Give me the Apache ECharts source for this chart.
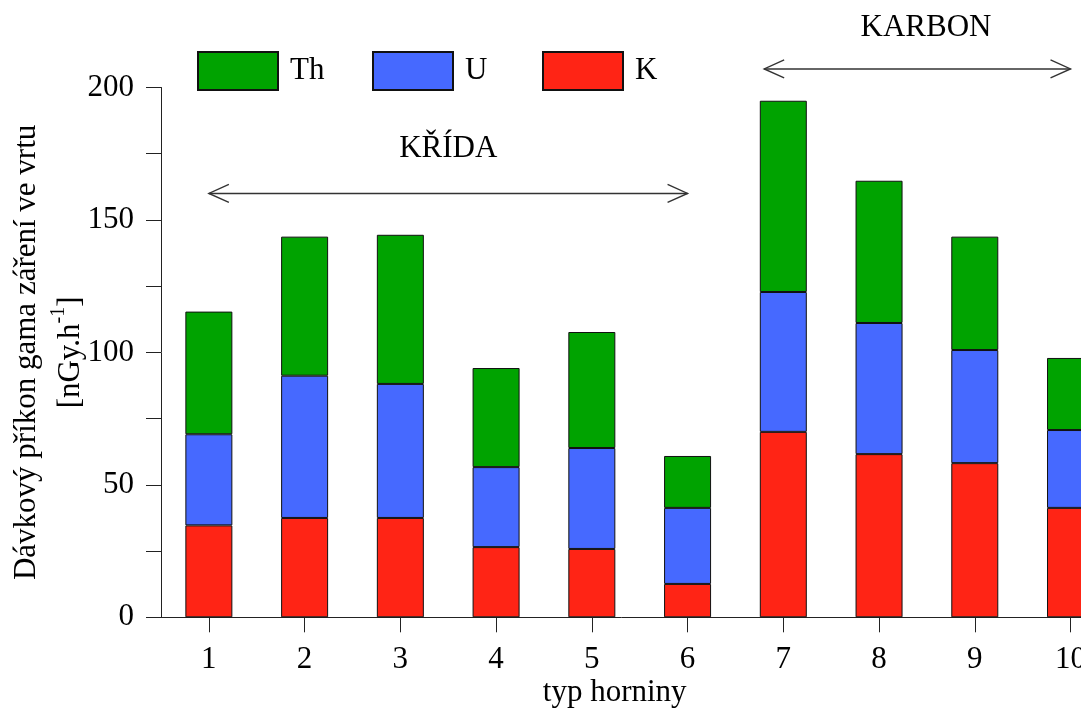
<!DOCTYPE html>
<html>
<head>
<meta charset="utf-8">
<script src="https://cdn.jsdelivr.net/npm/echarts@6/dist/echarts.min.js"></script>
<style>
  html, body { margin: 0; padding: 0; background: #fff; }
  #chart { width: 1081px; height: 713px; }
</style>
</head>
<body>
<div id="chart"></div>
<script>
// Rock types (typ horniny) and the dose-rate contributions of K, U and Th [nGy/h]
const categories = ['1', '2', '3', '4', '5', '6', '7', '8', '9', '10'];
const valuesK  = [34.7, 37.5, 37.5, 26.5, 25.8, 12.6, 70.0, 61.6, 58.2, 41.3];
const valuesU  = [34.4, 53.7, 50.6, 30.2, 38.1, 28.7, 52.8, 49.5, 42.7, 29.4];
const valuesTh = [46.3, 52.5, 56.3, 37.4, 43.8, 19.6, 72.2, 53.7, 42.8, 27.2];

// Stratigraphic spans: start/end category index, arrow height, label position (axis units)
const spanLabels = ['KŘÍDA', 'KARBON'];
const spanFrom   = [0, 5.8];
const spanTo     = [5, 9];
const spanArrowY = [160, 207];
const spanTextX  = [2.5, 7.49];
const spanTextY  = [177, 222.5];

const FONT = 'Liberation Serif';
const FS = 31;

const colors = { Th: '#00a300', U: '#4669ff', K: '#ff2415' };

const chart = echarts.init(document.getElementById('chart'), null, { renderer: 'canvas' });

function legendFor(name, left) {
  return {
    data: [name],
    left: left,
    top: 51,
    padding: 0,
    itemWidth: 80,
    itemHeight: 38,
    icon: 'rect',
    selectedMode: false,
    textStyle: { fontFamily: FONT, fontSize: FS, color: '#000', padding: [0, 0, 0, 7] }
  };
}

// the category axis snaps to whole indices, so fractional positions are interpolated
function coordAt(api, xIndex, y) {
  const i0 = Math.floor(xIndex);
  const f = xIndex - i0;
  const a = api.coord([i0, y]);
  if (f === 0) return a;
  const b = api.coord([i0 + 1, y]);
  return [a[0] + f * (b[0] - a[0]), a[1]];
}

const spanData = spanLabels.map((t, i) => [spanFrom[i], spanTo[i], spanArrowY[i], spanTextY[i]]);

const option = {
  animation: false,
  backgroundColor: '#fff',
  textStyle: { fontFamily: FONT },
  grid: {
    left: 161,
    top: 87.5,
    width: 957.4,
    height: 529.8,
    containLabel: false,
    outerBoundsMode: 'none'
  },
  legend: [legendFor('Th', 197), legendFor('U', 372), legendFor('K', 542)],
  xAxis: {
    type: 'category',
    data: categories,
    boundaryGap: true,
    name: 'typ horniny',
    nameLocation: 'middle',
    nameGap: 60,
    nameMoveOverlap: false,
    nameTextStyle: { fontFamily: FONT, fontSize: FS, color: '#000', padding: [0, 50, 0, 0] },
    axisLine: { show: true, lineStyle: { color: '#222', width: 1 } },
    axisTick: { show: true, alignWithLabel: true, length: 15, lineStyle: { color: '#222', width: 1 } },
    axisLabel: { fontFamily: FONT, fontSize: FS, color: '#000', margin: 27, interval: 0 },
    splitLine: { show: false }
  },
  yAxis: {
    type: 'value',
    min: 0,
    max: 200,
    interval: 25,
    name: '{a|Dávkový příkon gama záření ve vrtu}\n{a|[nGy.h}{s|-1}{a|]}',
    nameLocation: 'middle',
    nameGap: 68,
    nameMoveOverlap: false,
    nameTextStyle: {
      fontFamily: FONT, color: '#000', align: 'center', lineHeight: 44,
      rich: {
        a: { fontFamily: FONT, fontSize: FS, color: '#000', lineHeight: 44 },
        s: { fontFamily: FONT, fontSize: 20, color: '#000', verticalAlign: 'top', lineHeight: 30 }
      }
    },
    axisLine: { show: true, lineStyle: { color: '#222', width: 1 } },
    axisTick: { show: true, length: 15, lineStyle: { color: '#222', width: 1 } },
    axisLabel: {
      fontFamily: FONT, fontSize: FS, color: '#000', margin: 27,
      formatter: v => (v % 50 === 0 ? String(v) : '')
    },
    splitLine: { show: false }
  },
  series: [
    {
      name: 'K', type: 'bar', stack: 'dose', data: valuesK, barWidth: 47,
      itemStyle: { color: colors.K, borderColor: '#111', borderWidth: 1 }
    },
    {
      name: 'U', type: 'bar', stack: 'dose', data: valuesU, barWidth: 47,
      itemStyle: { color: colors.U, borderColor: '#111', borderWidth: 1 }
    },
    {
      name: 'Th', type: 'bar', stack: 'dose', data: valuesTh, barWidth: 47,
      itemStyle: { color: colors.Th, borderColor: '#111', borderWidth: 1 }
    },
    {
      // double-headed arrows marking the KŘÍDA and KARBON intervals
      type: 'custom',
      clip: false,
      silent: true,
      z: 10,
      data: spanData,
      encode: { x: 0, y: 2 },
      renderItem: function (params, api) {
        const i = params.dataIndex;
        const p1 = coordAt(api, spanFrom[i], spanArrowY[i]);
        const p2 = coordAt(api, spanTo[i], spanArrowY[i]);
        const pt = coordAt(api, spanTextX[i], spanTextY[i]);
        const ah = 20, aw = 9;
        const lineStyle = { stroke: '#333', lineWidth: 1.4, fill: null };
        return {
          type: 'group',
          children: [
            { type: 'line', shape: { x1: p1[0], y1: p1[1], x2: p2[0], y2: p2[1] }, style: lineStyle },
            { type: 'polyline', shape: { points: [[p1[0] + ah, p1[1] - aw], [p1[0], p1[1]], [p1[0] + ah, p1[1] + aw]] }, style: lineStyle },
            { type: 'polyline', shape: { points: [[p2[0] - ah, p2[1] - aw], [p2[0], p2[1]], [p2[0] - ah, p2[1] + aw]] }, style: lineStyle },
            {
              type: 'text',
              style: {
                text: spanLabels[i], x: pt[0], y: pt[1],
                align: 'center', verticalAlign: 'middle',
                font: FS + 'px "' + FONT + '"', fill: '#000'
              }
            }
          ]
        };
      }
    }
  ]
};

chart.setOption(option);
</script>
</body>
</html>
